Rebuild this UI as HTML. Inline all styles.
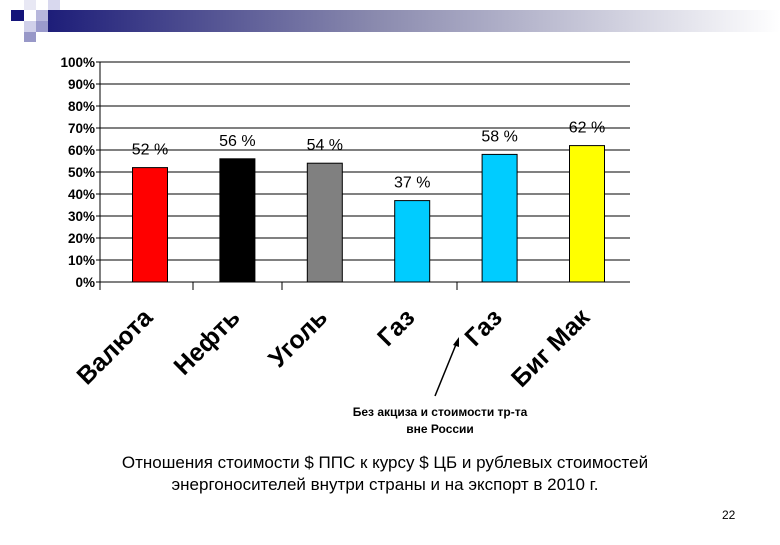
<!DOCTYPE html>
<html><head><meta charset="utf-8"><style>
body{margin:0;width:780px;height:540px;background:#fff;overflow:hidden;font-family:"Liberation Sans",sans-serif}
</style></head><body>
<svg width="780" height="540">
<defs><linearGradient id="g" x1="0" x2="1"><stop offset="0" stop-color="#1c1c78"/><stop offset="0.45" stop-color="#8a8aae"/><stop offset="1" stop-color="#ffffff"/></linearGradient></defs>
<g>
<rect x="44" y="10" width="736" height="22" fill="url(#g)"/>
<rect x="11" y="10" width="13" height="11" fill="#15157a"/>
<rect x="24" y="0" width="12" height="10" fill="#e8e8f4"/>
<rect x="36" y="10" width="12" height="11" fill="#b8b8dc"/>
<rect x="24" y="21" width="12" height="11" fill="#d0d0ea"/>
<rect x="48" y="0" width="12" height="10" fill="#d8d8ee"/>
<rect x="36" y="21" width="12" height="11" fill="#9a9acc"/>
<rect x="24" y="32" width="12" height="10" fill="#9898c8"/>
</g>
<g id="chart"></g>
<line x1="435" y1="396" x2="457" y2="342" stroke="#000" stroke-width="1.5"/>
<polygon points="459,337 453,345 459,347" fill="#000"/>
<text x="440" y="416" font-size="12" font-weight="bold" text-anchor="middle">Без акциза и стоимости тр-та</text>
<text x="440" y="433" font-size="12" font-weight="bold" text-anchor="middle">вне России</text>
<text x="385" y="468" font-size="17" text-anchor="middle">Отношения стоимости $ ППС к курсу $ ЦБ и рублевых стоимостей</text>
<text x="385" y="490" font-size="17" text-anchor="middle">энергоносителей внутри страны и на экспорт в 2010 г.</text>
<text x="722" y="519" font-size="12">22</text>
</svg>
<script>
const categories=["Валюта","Нефть","Уголь","Газ","Газ","Биг Мак"];
const values=[52,56,54,37,58,62];
const colors=["#ff0000","#000000","#808080","#00ccff","#00ccff","#ffff00"];
const ticks=[0,10,20,30,40,50,60,70,80,90,100];
const NS="http://www.w3.org/2000/svg";
const g=document.getElementById('chart');
const x0=100,x1=630,yb=282,yt=62;
const y=v=>yb-(yb-yt)*v/100;
const cx=i=>150+i*87.4;
function mk(t,a){const e=document.createElementNS(NS,t);for(const k in a)e.setAttribute(k,a[k]);g.appendChild(e);return e;}
ticks.forEach(t=>{
 const l=mk('line',{x1:x0-4,x2:x1,y1:y(t),y2:y(t),stroke:'#000','stroke-width':1});
 
 
 const tx=mk('text',{x:95,y:y(t)+5,'font-size':13.5,'font-weight':'bold','text-anchor':'end'});
 tx.textContent=t+'%';
 
 
});
const ax=mk('line',{x1:x0,x2:x0,y1:yt,y2:yb+7,stroke:'#000'});


[100,193,282,457].forEach(p=>{const t=mk('line',{x1:p,x2:p,y1:yb,y2:yb+8,stroke:'#000'});

});
values.forEach((v,i)=>{
 const b=mk('rect',{x:cx(i)-17.5,y:y(v),width:35,height:yb-y(v),fill:colors[i],stroke:'#000','stroke-width':1});
 
 
 const lb=mk('text',{x:cx(i),y:y(v)-13,'font-size':16,'text-anchor':'middle'});
 lb.textContent=v+' %';
 
 
 const c=mk('text',{x:0,y:0,'font-size':25,'font-weight':'bold','text-anchor':'end',transform:`translate(${cx(i)+4},${y(0)+37}) rotate(-45)`});
 c.textContent=categories[i];
 
 
});
</script>
</body></html>
